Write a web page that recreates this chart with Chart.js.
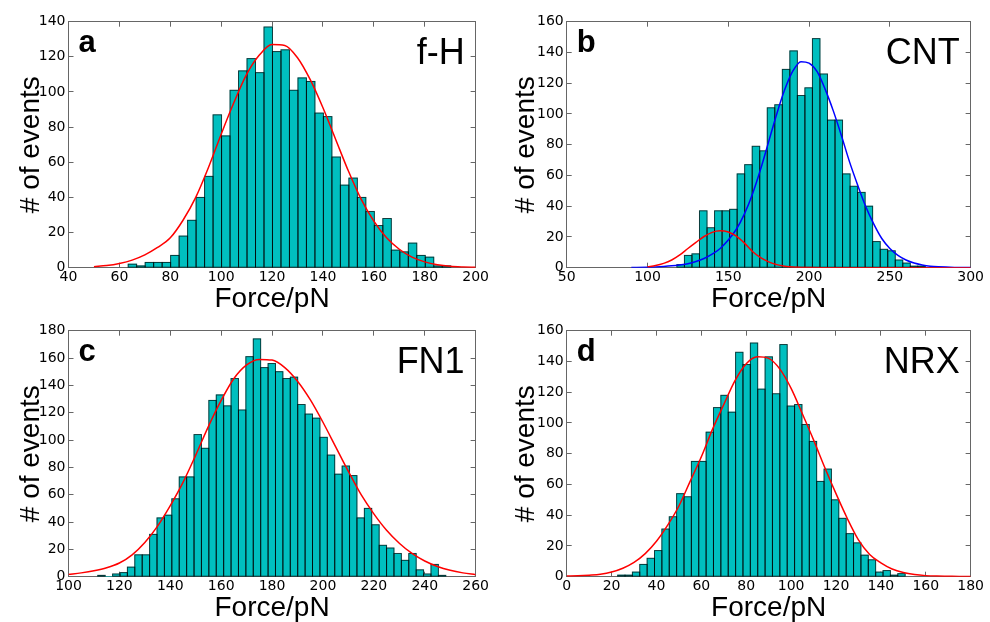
<!DOCTYPE html>
<html>
<head>
<meta charset="utf-8">
<script src="https://cdn.jsdelivr.net/npm/chart.js@4.4.1/dist/chart.umd.min.js"></script>
<style>
    html, body { margin: 0; padding: 0; background: #fff; }
    #fig { position: relative; width: 990px; height: 622px; overflow: hidden; }
    #fig canvas { position: absolute; }
</style>
</head>
<body>
<div id="fig">
    <canvas id="panelA" width="495" height="313" style="left:0;top:0"></canvas>
    <canvas id="panelB" width="495" height="313" style="left:495px;top:0"></canvas>
    <canvas id="panelC" width="495" height="313" style="left:0;top:309px"></canvas>
    <canvas id="panelD" width="495" height="313" style="left:495px;top:309px"></canvas>
</div>
<script>
const panelLetters = ['a', 'b', 'c', 'd'];
const panelNames = ['f-H', 'CNT', 'FN1', 'NRX'];

// a: f-H
const aBinStart = 63.45;
const aBinWidth = 3.336;
const aCounts = [2,1,3,3,3,7,18,27,40,52,87,75,101,112,119,111,137,123,124,101,108,106,88,86,63,47,51,40,32,24,28,10,9,14,7,6,1,1];
const aFitX = [50,55,60,65,70,75,80,85,90,95,100,105,110,115,120,125,130,135,140,145,150,155,160,165,170,175,180,185,190,195,200];
const aFitY = [0.6,1.2,2.4,4.3,7.3,11.5,17,27,40,57,76,94,110,121,127,126.5,119.5,107,91,73,55,39,26.5,17,10.5,6,3.3,1.7,0.8,0.4,0.2];
const aXTicks = [40,60,80,100,120,140,160,180,200];
const aYTicks = [0,20,40,60,80,100,120,140];

// b: CNT (two fits)
const bBinStart = 118.2;
const bBinWidth = 4.66;
const bCounts = [2,8,9,37,26,37,37,38,61,67,79,76,104,106,129,141,112,117,149,126,96,96,61,53,49,40,17,12,11,5,3,1,1];
const bRedX = [100,105,110,115,120,125,130,135,140,145,150,155,160,165,170,175,180,185,190,195,200,210,220,240,260,280,300];
const bRedY = [0.6,1.4,2.8,5,8.3,12.5,16.5,20.3,23,24,23.2,20.5,16,10.5,6.5,3.8,2,1,0.4,0.2,0.1,0,0,0,0,0,0];
const bBlueX = [90,100,110,115,120,125,130,135,140,145,150,155,160,165,170,175,180,185,190,195,200,205,210,215,220,225,230,235,240,245,250,255,260,265,270,275,280,290,300];
const bBlueY = [0.1,0.3,0.8,1.2,1.8,2.6,4,6,8.8,12.5,18,25,35,48,64,82,100,116,128,134,133,127.5,116,102,86,69,54,40,28.5,19,12.5,8,5,3,1.8,1,0.6,0.2,0.1];
const bXTicks = [50,100,150,200,250,300];
const bYTicks = [0,20,40,60,80,100,120,140,160];

// c: FN1
const cBinStart = 111.5;
const cBinWidth = 2.91;
const cCounts = [1,0,2,3,7,16,16,31,43,45,57,73,73,104,94,129,133,125,145,122,161,174,153,156,150,145,146,126,119,116,102,89,75,81,74,43,50,38,23,21,17,12,17,5,2,9,1];
const cFitX = [100,105,110,115,120,125,130,135,140,145,150,155,160,165,170,175,180,185,190,195,200,205,210,215,220,225,230,235,240,245,250,255,260];
const cFitY = [1.7,2.8,4.3,6.5,10,16,25,37,52,69,89,110,129,145,155,159,158.5,153,143,129.5,113,95,77,60,46,34,24.5,17,11.5,7.5,4.7,2.8,1.5];
const cXTicks = [100,120,140,160,180,200,220,240,260];
const cYTicks = [0,20,40,60,80,100,120,140,160,180];

// d: NRX
const dBinStart = 22.7;
const dBinWidth = 3.285;
const dCounts = [1,1,3,8,12,17,31,39,54,52,75,75,94,110,118,107,146,138,152,122,143,119,151,111,112,99,88,62,70,50,38,28,22,14,11,3,4,1,2];
const dFitX = [0,5,10,15,20,25,30,35,40,45,50,55,60,65,70,75,80,85,90,95,100,105,110,115,120,125,130,135,140,145,150,155,160,165,170,175,180];
const dFitY = [0.4,0.6,1,1.6,3,5.5,9.3,15,23,33.5,46,62,78,96,112,127.5,138.5,143,142,135,122.5,106,89,71,54,38,24,14.5,9,5,2.7,1.4,0.7,0.4,0.3,0.2,0.2];
const dXTicks = [0,20,40,60,80,100,120,140,160,180];
const dYTicks = [0,20,40,60,80,100,120,140,160];

const BAR_FILL = '#00bfbf';
const BAR_EDGE = 'rgba(0,0,0,0.7)';
const FRAME = '#666';
const TITLE_FONT = '"Liberation Sans", Arial, sans-serif';
const TICK_FONT = '"DejaVu Sans", sans-serif';

function histPoints(start, width, counts) {
    return counts.map((c, i) => ({ x: start + width * (i + 0.5), y: c }));
}

function curvePoints(xs, ys) {
    return xs.map((x, i) => ({ x: x, y: ys[i] }));
}

function fixedTicks(values) {
    return (scale) => { scale.ticks = values.map(v => ({ value: v })); };
}

// outline each histogram bar (matplotlib style edges), using the bar elements chart.js laid out
const barEdges = {
    id: 'barEdges',
    afterDatasetDraw(chart, args) {
        if (args.meta.type !== 'bar') return;
        const ctx = chart.ctx;
        ctx.save();
        ctx.strokeStyle = BAR_EDGE;
        ctx.lineWidth = 1;
        args.meta.data.forEach(el => {
            const { x, y, base, width } = el.getProps(['x', 'y', 'base', 'width'], true);
            if (Math.abs(base - y) < 0.1) return;
            ctx.strokeRect(x - width / 2, y, width, base - y);
        });
        ctx.restore();
    }
};

// letter top-left, name top-right
const panelText = {
    id: 'panelText',
    afterDraw(chart, args, opts) {
        const { ctx, chartArea } = chart;
        ctx.save();
        ctx.fillStyle = '#000';
        ctx.textBaseline = 'alphabetic';
        ctx.font = 'bold 31px ' + TITLE_FONT;
        ctx.textAlign = 'left';
        ctx.fillText(opts.letter, chartArea.left + 10, chartArea.top + 30);
        ctx.font = '36px ' + TITLE_FONT;
        ctx.textAlign = 'right';
        ctx.fillText(opts.name, chartArea.right - 11, chartArea.top + 42);
        ctx.restore();
    }
};

function makePanel(id, p) {
    const frameGrid = { drawOnChartArea: false, drawTicks: true, tickLength: -5, color: FRAME };
    const border = { display: true, color: FRAME, width: 1 };
    const datasets = p.curves.map((c, i) => ({
        type: 'line',
        data: c.data,
        borderColor: c.color,
        borderWidth: 1.5,
        pointRadius: 0,
        fill: false,
        cubicInterpolationMode: 'monotone',
        order: i
    }));
    datasets.push({
        type: 'bar',
        data: p.bars,
        backgroundColor: BAR_FILL,
        borderWidth: 0,
        barPercentage: 1,
        categoryPercentage: 1,
        order: 10
    });
    return new Chart(document.getElementById(id), {
        type: 'bar',
        data: { datasets: datasets },
        plugins: [barEdges, panelText],
        options: {
            responsive: false,
            animation: false,
            layout: { padding: { left: 0, right: p.padRight, top: 21.7, bottom: 0 } },
            plugins: {
                legend: { display: false },
                tooltip: { enabled: false },
                panelText: { letter: p.letter, name: p.name }
            },
            scales: {
                x: {
                    type: 'linear', position: 'bottom', offset: false, z: 1,
                    min: p.xTicks[0], max: p.xTicks[p.xTicks.length - 1],
                    afterBuildTicks: fixedTicks(p.xTicks),
                    afterFit: (s) => { s.height = 45.3; },
                    grid: Object.assign({ offset: false }, frameGrid),
                    border: border,
                    ticks: { autoSkip: false, maxRotation: 0, padding: 6, color: '#000',
                             font: { family: TICK_FONT, size: 14 } },
                    title: { display: true, text: 'Force/pN', color: '#000', padding: { top: 0, bottom: 0 },
                             font: { family: TITLE_FONT, size: 28, lineHeight: 1 } }
                },
                y: {
                    type: 'linear', position: 'left', z: 1,
                    min: 0, max: p.yTicks[p.yTicks.length - 1],
                    afterBuildTicks: fixedTicks(p.yTicks),
                    afterFit: (s) => { s.width = p.plotLeft; },
                    grid: frameGrid,
                    border: border,
                    ticks: { autoSkip: false, padding: 8, color: '#000',
                             font: { family: TICK_FONT, size: 14 } },
                    title: { display: true, text: '# of events', color: '#000', padding: { top: 17, bottom: 0 },
                             font: { family: TITLE_FONT, size: 28, lineHeight: 1 } }
                },
                x2: {
                    type: 'linear', position: 'top', display: true, offset: false, z: 1,
                    min: p.xTicks[0], max: p.xTicks[p.xTicks.length - 1],
                    afterBuildTicks: fixedTicks(p.xTicks),
                    afterFit: (s) => { s.height = 0; },
                    grid: Object.assign({ offset: false }, frameGrid),
                    border: border,
                    ticks: { display: false }
                },
                y2: {
                    type: 'linear', position: 'right', display: true, z: 1,
                    min: 0, max: p.yTicks[p.yTicks.length - 1],
                    afterBuildTicks: fixedTicks(p.yTicks),
                    afterFit: (s) => { s.width = 0; },
                    grid: frameGrid,
                    border: border,
                    ticks: { display: false }
                }
            }
        }
    });
}

makePanel('panelA', {
    letter: panelLetters[0], name: panelNames[0],
    bars: histPoints(aBinStart, aBinWidth, aCounts),
    curves: [{ data: curvePoints(aFitX, aFitY), color: '#ff0000' }],
    xTicks: aXTicks, yTicks: aYTicks, plotLeft: 68.5, padRight: 17
});

makePanel('panelB', {
    letter: panelLetters[1], name: panelNames[1],
    bars: histPoints(bBinStart, bBinWidth, bCounts),
    curves: [
        { data: curvePoints(bRedX, bRedY), color: '#ff0000' },
        { data: curvePoints(bBlueX, bBlueY), color: '#0000ff' }
    ],
    xTicks: bXTicks, yTicks: bYTicks, plotLeft: 71.7, padRight: 14
});

makePanel('panelC', {
    letter: panelLetters[2], name: panelNames[2],
    bars: histPoints(cBinStart, cBinWidth, cCounts),
    curves: [{ data: curvePoints(cFitX, cFitY), color: '#ff0000' }],
    xTicks: cXTicks, yTicks: cYTicks, plotLeft: 68.5, padRight: 17
});

makePanel('panelD', {
    letter: panelLetters[3], name: panelNames[3],
    bars: histPoints(dBinStart, dBinWidth, dCounts),
    curves: [{ data: curvePoints(dFitX, dFitY), color: '#ff0000' }],
    xTicks: dXTicks, yTicks: dYTicks, plotLeft: 71.7, padRight: 14
});
</script>
</body>
</html>
